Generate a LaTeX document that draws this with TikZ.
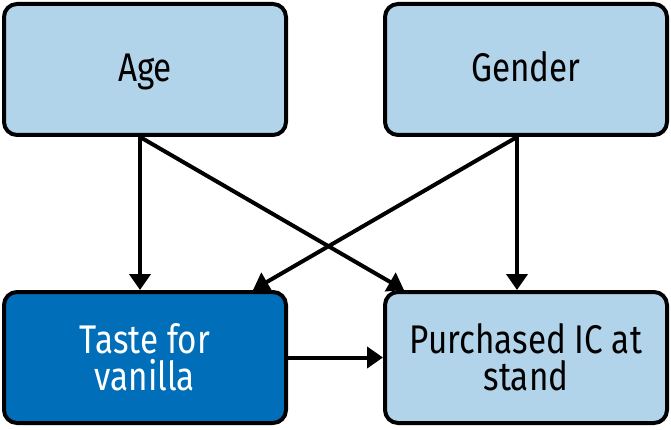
\documentclass[tikz,border=0pt]{standalone}
\usepackage{fontspec}
\setmainfont[FakeStretch=0.83]{Fira Sans}
\usetikzlibrary{arrows.meta, positioning}
\definecolor{lightbox}{HTML}{B1D4EA}
\definecolor{darkbox}{HTML}{006EB8}

\begin{document}
\begin{tikzpicture}[x=1pt, y=1pt, >={Triangle[length=16pt, width=21pt]},
		line cap=butt, line join=round,
		varbox/.style={draw=black, line width=4pt, rounded corners=13pt,
			fill=lightbox, minimum width=282pt, minimum height=131pt,
			align=center, font=\fontsize{40}{37}\selectfont, inner sep=0pt},
		onelinebox/.style={varbox, text height=29pt, text depth=4pt},
		treatbox/.style={varbox, fill=darkbox, text=white},
		causal/.style={->, line width=4pt}]
	
	\useasboundingbox (0,0) rectangle (671,429);
	
	%========================
	% variables
	%========================
	\node[onelinebox] (age)       at (145,359.5) {Age};
	\node[onelinebox] (gender)    at (526,359.5) {Gender};
	\node[treatbox]   (taste)     at (145,71.5)  {Taste for\\vanilla};
	\node[varbox]     (purchased) at (526,71.5)  {Purchased IC at\\stand};
	
	%========================
	% causal arrows
	%========================
	\draw[causal] ([xshift=-5pt]age.south) -- ([xshift=-5pt]taste.north);
	\draw[causal] ([xshift=-5pt]age.south) -- ([xshift=-122pt]purchased.north);
	\draw[causal] ([xshift=-9pt]gender.south) -- ([xshift=108pt]taste.north);
	\draw[causal] ([xshift=-9pt]gender.south) -- ([xshift=-9pt]purchased.north);
	\draw[causal] (taste.east) -- (purchased.west);
	
\end{tikzpicture}
\end{document}
